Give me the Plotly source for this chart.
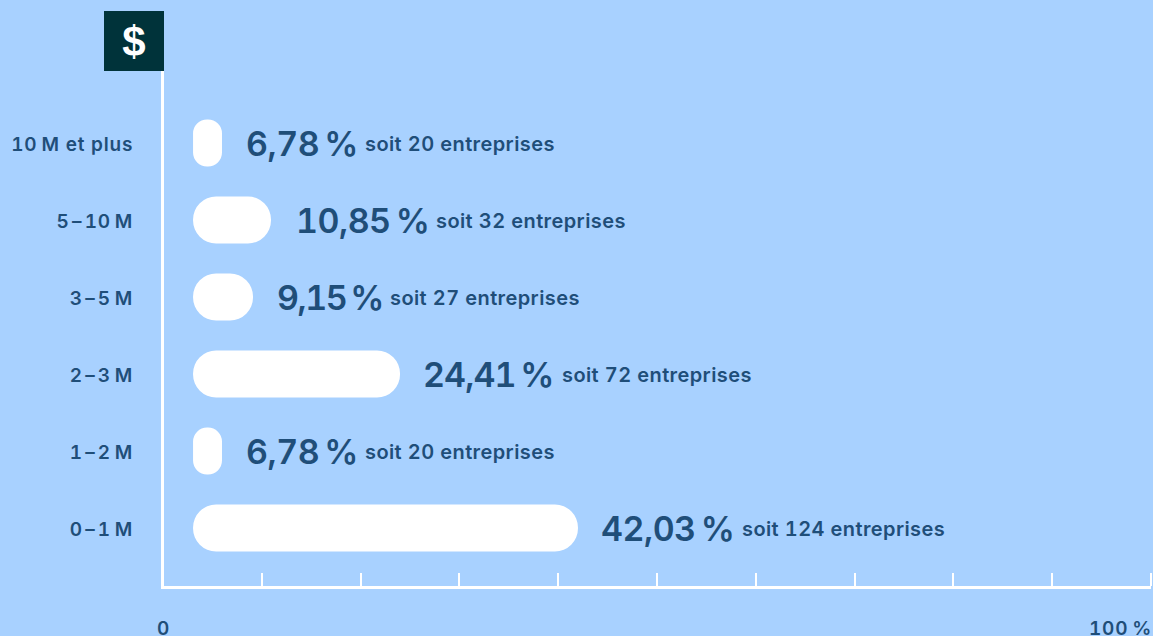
import plotly.graph_objects as go

categories = ["0\u200a\u2013\u200a1\u2009M", "1\u200a\u2013\u200a2\u2009M", "2\u200a\u2013\u200a3\u2009M", "3\u200a\u2013\u200a5\u2009M", "5\u200a\u2013\u200a10\u2009M", "10\u2009M et plus"]
percent_labels = ["42,03\u2009%", "6,78\u2009%", "24,41\u2009%", "9,15\u2009%", "10,85\u2009%", "6,78\u2009%"]
company_counts = [124, 20, 72, 27, 32, 20]
bar_start = [3.04, 3.04, 3.04, 3.04, 3.04, 3.04]
bar_end = [42.0, 5.97, 23.99, 9.11, 10.93, 5.97]
x_ticks = [10, 20, 30, 40, 50, 60, 70, 80, 90, 100]

INK = "#1f4e79"
BG = "#a8d1ff"
FONT = "Inter"


def styled(text, spacing):
    return f'<span style="letter-spacing:{spacing}px;font-variant-numeric:tabular-nums">{text}</span>'


fig = go.Figure()
fig.add_trace(go.Bar(
    y=categories, x=[b - a for a, b in zip(bar_start, bar_end)], base=bar_start, orientation="h",
    marker=dict(color="white", line=dict(width=0)), hoverinfo="skip", showlegend=False,
))

pct_spacing = [-0.5, -0.5, -0.9, -1.5, -0.5, -0.5]
pct_shift = [21, 22, 21, 22, 23, 22]
soit_shift = [164, 143, 162, 137, 165, 143]
annotations = []
for cat, end, pct, n, s, ps, sp in zip(categories, bar_end, percent_labels, company_counts, soit_shift, pct_shift, pct_spacing):
    annotations.append(dict(x=end, y=cat, xref="x", yref="y", text=styled(pct, sp), showarrow=False,
                            xanchor="left", yanchor="middle", xshift=ps, yshift=0,
                            font=dict(family=FONT, size=34, color=INK, weight=600)))
    annotations.append(dict(x=end, y=cat, xref="x", yref="y", text=styled(f"soit {n} entreprises", 0.4),
                            showarrow=False, xanchor="left", yanchor="middle", xshift=s - 2, yshift=-1,
                            font=dict(family=FONT, size=20, color=INK, weight=600)))
annotations.append(dict(x=0, y=0, xref="paper", yref="paper", text=styled("0", 0.8), showarrow=False, xanchor="center",
                        yanchor="middle", xshift=-1, yshift=-42, font=dict(family=FONT, size=19, color=INK, weight=600)))
annotations.append(dict(x=100, y=0, xref="x", yref="paper", text=styled("100\u2009%", 0.8), showarrow=False, xanchor="right",
                        yanchor="middle", xshift=3, yshift=-42, font=dict(family=FONT, size=19, color=INK, weight=600)))
annotations.append(dict(x=0, y=1, xref="paper", yref="paper", text="$", showarrow=False, xanchor="right",
                        yanchor="bottom", xshift=0, yshift=0, width=60, height=60, bgcolor="#00333a", borderpad=0,
                        borderwidth=0, align="center", valign="middle",
                        font=dict(family="Liberation Sans", size=42, color="white", weight=700)))

fig.update_layout(
    width=1153, height=636, autosize=False,
    margin=dict(l=164, r=2, t=71, b=50, pad=0),
    paper_bgcolor=BG, plot_bgcolor=BG,
    barmode="overlay", bargap=0.39, barcornerradius=24,
    font=dict(family=FONT, color=INK),
    annotations=annotations,
    shapes=[dict(type="line", xref="paper", x0=1, x1=1, yref="paper", ysizemode="pixel", yanchor=0,
                 y0=0, y1=13, line=dict(color="white", width=2))],
    xaxis=dict(range=[0.1, 100], tickvals=x_ticks, ticktext=[""] * len(x_ticks), ticks="inside",
               ticklen=13, tickwidth=2, tickcolor="white", showgrid=False, zeroline=False,
               showline=True, linecolor="white", linewidth=3),
    yaxis=dict(type="category", categoryorder="array", categoryarray=categories, range=[-0.753, 5.935],
               tickvals=categories, ticktext=[styled(c, 0.8) for c in categories],
               showgrid=False, zeroline=False, showline=True, linecolor="white", linewidth=3, ticks="",
               ticklabelstandoff=24, ticklabelshift=1, tickfont=dict(family=FONT, size=19, color=INK, weight=600)),
)
fig.write_html("out.html", config={"displayModeBar": False},
               post_script="document.body.style.margin='0';document.documentElement.style.overflow='hidden';")
